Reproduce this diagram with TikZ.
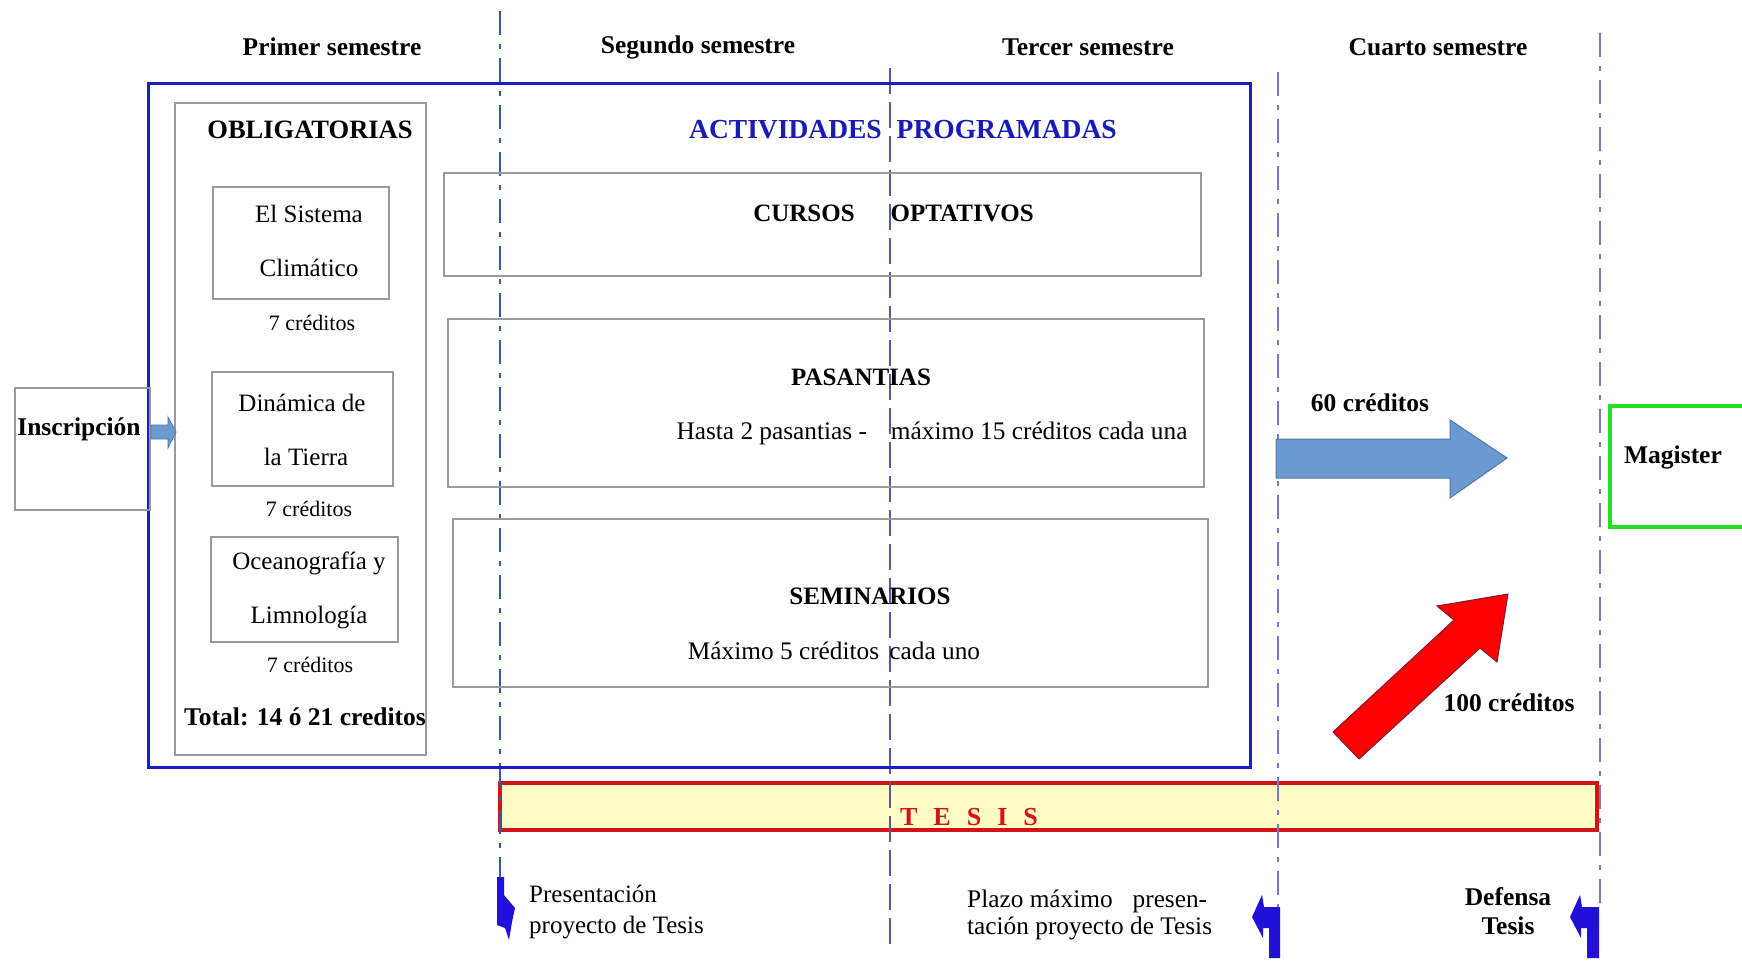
\documentclass[tikz,border=0pt]{standalone}
\usepackage{fontspec}
\setmainfont{Liberation Serif}
\definecolor{frameblue}{HTML}{1C1CC8}
\definecolor{boxgray}{HTML}{9A9A9A}
\definecolor{lineA}{HTML}{2F5F9F}
\definecolor{lineB}{HTML}{5A55A8}
\definecolor{lineC}{HTML}{7B78C8}
\definecolor{arrowblue}{HTML}{6C9AD0}
\definecolor{arrowblueD}{HTML}{4A78B0}
\definecolor{tesisfill}{HTML}{FFFCC8}
\definecolor{tesisred}{HTML}{D41414}
\definecolor{magreen}{HTML}{22E022}
\definecolor{bentblue}{HTML}{2010D8}
\definecolor{actblue}{HTML}{1A1AB8}
\definecolor{redarrow}{HTML}{FF0000}
\definecolor{redarrowD}{HTML}{7A1A3A}
\tikzset{
  graybox/.style={draw=boxgray, line width=2pt, inner sep=0pt},
  txt/.style={font=\fontsize{25.3}{30}\selectfont, inner sep=0pt},
  btxt/.style={font=\fontsize{25.5}{30}\selectfont\bfseries, inner sep=0pt},
  smalltxt/.style={font=\fontsize{22}{26}\selectfont, inner sep=0pt},
  coursetxt/.style={font=\fontsize{25}{54}\selectfont, inner sep=0pt, align=center},
  vline/.style={line width=1.6pt, dash pattern=on 24pt off 9pt on 5pt off 9pt},
  bentarrow/.style={fill=bentblue, draw=none},
}
\begin{document}
\begin{tikzpicture}[x=1pt, y=-1pt]
\useasboundingbox (0,0) rectangle (1742,964);
\clip (0,0) rectangle (1742,964);
\fill[white] (0,0) rectangle (1742,964);

% TESIS bar (fill first so the lines show on it)
\node[draw=tesisred, fill=tesisfill, line width=3.5pt, minimum width=1097pt, minimum height=47pt, inner sep=0pt] (tesis) at (1048.5,806.5) {};

% semester separator lines
\coordinate (l1t) at (500,11);   \coordinate (l1b) at (500,877);
\coordinate (l2t) at (890,68);   \coordinate (l2b) at (890,946);
\coordinate (l3t) at (1278,72);  \coordinate (l3b) at (1278,907);
\coordinate (l4t) at (1600,33);  \coordinate (l4b) at (1600,907);
\draw[vline, lineA] (l1t) -- (l1b);
\draw[vline, lineB, dash pattern=on 26pt off 8pt] (l2t) -- (l2b);
\draw[vline, lineC] (l3t) -- (l3b);
\draw[vline, lineC] (l4t) -- (l4b);

% semester headings
\node[btxt] (s1) at (332,47) {Primer semestre};
\node[btxt] (s2) at (698,47) {Segundo semestre};
\node[btxt] (s3) at (1088,47) {Tercer semestre};
\node[btxt] (s4) at (1438,47) {Cuarto semestre};

% program frame
\node[draw=frameblue, line width=3pt, minimum width=1102pt, minimum height=684pt, inner sep=0pt] (prog) at (699,425) {};

% obligatorias column
\node[graybox, minimum width=251pt, minimum height=652pt] (obl) at (300.5,429) {};
\node[btxt, font=\fontsize{26.5}{30}\selectfont\bfseries] (oblt) at (310,130) {OBLIGATORIAS};

\node[graybox, minimum width=176pt, minimum height=112pt] (sist) at (301,243) {};
\node[coursetxt] (sistt) at (309,241) {El Sistema\\Climático};
\node[smalltxt] (c1) at (312,323) {7 créditos};

\node[graybox, minimum width=181pt, minimum height=114pt] (din) at (302.5,429) {};
\node[coursetxt] (dint) at (302,430) {Dinámica de\\\hspace*{8pt}la Tierra};
\node[smalltxt] (c2) at (309,509) {7 créditos};

\node[graybox, minimum width=187pt, minimum height=105pt] (oce) at (304.5,589.5) {};
\node[coursetxt] (ocet) at (309,590) {Oceanografía y\\Limnología};
\node[smalltxt] (c3) at (310,665) {7 créditos};

\node[btxt] (tot) at (305,717) {Total: 14 ó 21 creditos};

% inscripcion
\node[graybox, minimum width=135pt, minimum height=122pt] (insc) at (82.5,449) {};
\node[btxt] (insct) at (79,429) {Inscripción};
\draw[fill=arrowblue, draw=arrowblueD, line width=0.8pt]
  (insc.east |- 0,425) -- (168,425) -- (168,417) -- (176,432) -- (168,448) -- (168,439) -- (insc.east |- 0,439) -- cycle;

% actividades programadas
\node[btxt, text=actblue, font=\fontsize{27.5}{30}\selectfont\bfseries] (act) at (903,130) {ACTIVIDADES\hspace{15pt}PROGRAMADAS};

\node[graybox, minimum width=757pt, minimum height=103pt] (cur) at (822.5,224.5) {};
\node[btxt, font=\fontsize{25}{30}\selectfont\bfseries] (curt) at (893.5,213) {CURSOS\hspace{36pt}OPTATIVOS};

\node[graybox, minimum width=756pt, minimum height=168pt] (pas) at (826,403) {};
\node[btxt, font=\fontsize{25}{30}\selectfont\bfseries] (past) at (861,377) {PASANTIAS};
\node[txt] (pasd) at (932,433) {Hasta 2 pasantias -\hspace{24pt}máximo 15 créditos cada una};

\node[graybox, minimum width=755pt, minimum height=168pt] (sem) at (830.5,603) {};
\node[btxt, font=\fontsize{25}{30}\selectfont\bfseries] (semt) at (870,596) {SEMINARIOS};
\node[txt] (semd) at (834,651) {Máximo 5 créditos \hspace{4pt}cada uno};

% tesis label
\node[btxt, text=tesisred, font=\fontsize{26}{30}\selectfont\bfseries] (tesist) at (969,817) {T\hspace{16pt}E\hspace{16pt}S\hspace{16pt}I\hspace{16pt}S};

% 60 creditos arrow
\node[btxt] (c60) at (1370,403) {60 créditos};
\draw[fill=arrowblue, draw=arrowblueD, line width=1pt]
  (1276,439) -- (1450,439) -- (1450,420) -- (1507,458) -- (1450,498) -- (1450,478) -- (1276,478) -- cycle;

% magister
\node[draw=magreen, line width=4pt, minimum width=160pt, minimum height=121pt, inner sep=0pt] (mag) at (1690,466.5) {};
\node[btxt] (magt) at (1673,457) {Magister};

% 100 creditos arrow
\draw[fill=redarrow, draw=redarrowD, line width=1pt]
  (1333,732) -- (1454,620) -- (1437,606) -- (1508,594) -- (1497,662) -- (1480,648) -- (1359,759) -- cycle;
\node[btxt] (c100) at (1509,703) {100 créditos};

% bottom markers
\fill[bentarrow] (497,877) -- (504,877) -- (504,895) -- (515,908) -- (512,922) -- (509,940) -- (505,928) -- (497,925) -- cycle;
\node[txt, anchor=west, align=left, font=\fontsize{25}{31}\selectfont] (pres) at (529,912) {Presentación\\proyecto de Tesis};

\fill[bentarrow] (1262,895) -- (1252,917) -- (1263,938) -- (1263,928) -- (1269,928) -- (1269,958) -- (1280,958) -- (1280,907) -- (1264,907) -- cycle;
\node[txt, anchor=west, align=left, font=\fontsize{25.3}{27}\selectfont] (plazo) at (967,915) {Plazo máximo\hspace{20pt}presen-\\tación proyecto de Tesis};

\fill[bentarrow] (1580,895) -- (1570,917) -- (1581,938) -- (1581,928) -- (1587,928) -- (1587,958) -- (1599,958) -- (1599,907) -- (1582,907) -- cycle;
\node[btxt, align=center, font=\fontsize{25.5}{29}\selectfont\bfseries] (def) at (1508,911) {Defensa\\Tesis};
\end{tikzpicture}
\end{document}
